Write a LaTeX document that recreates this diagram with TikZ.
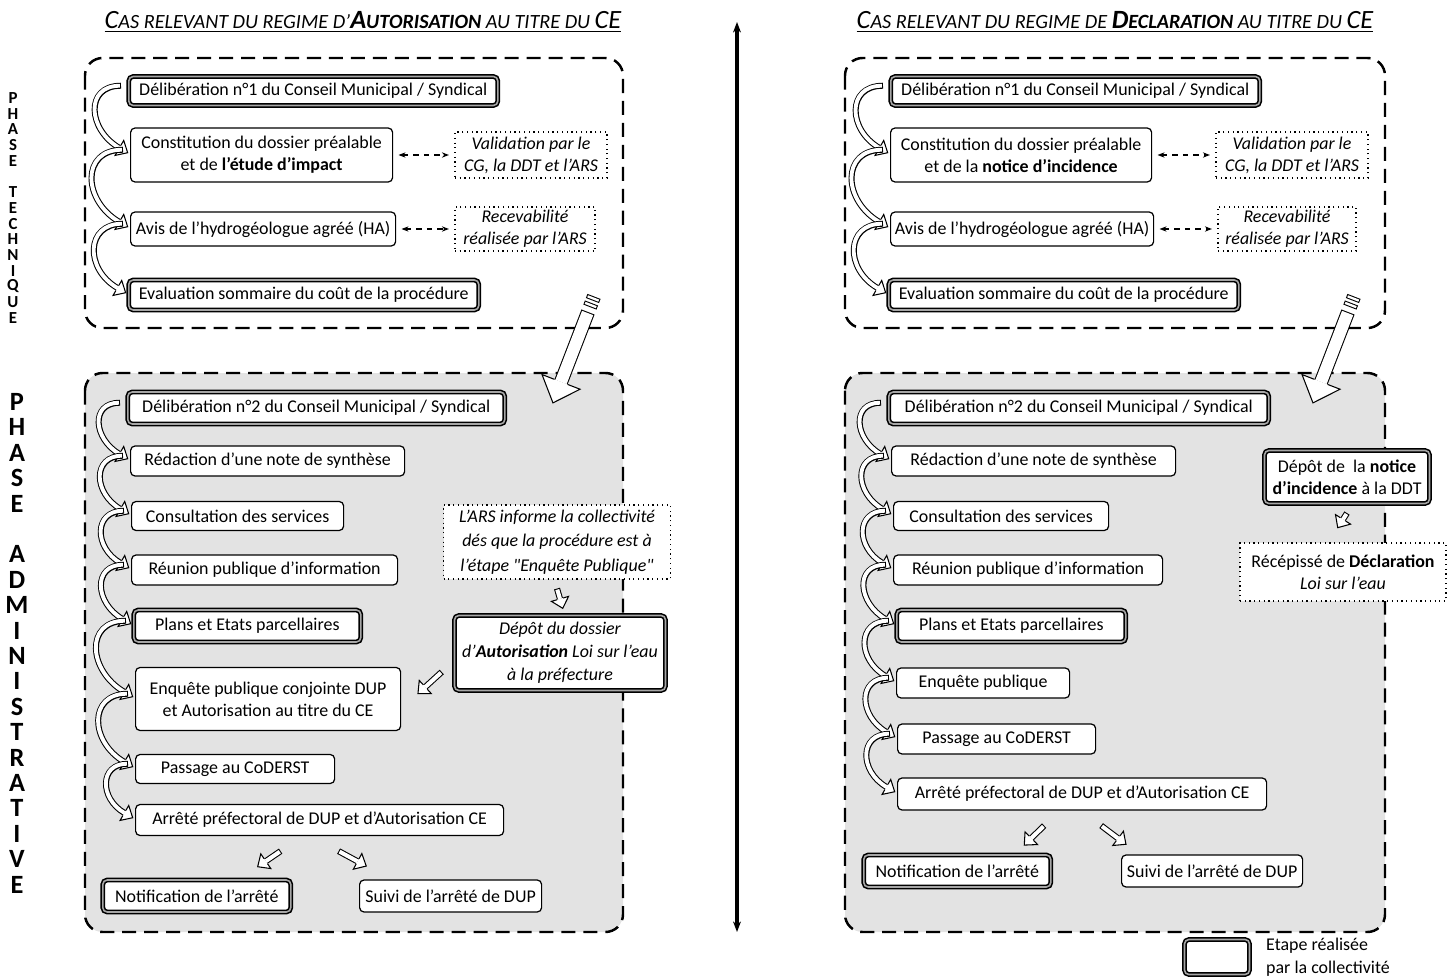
\documentclass[tikz,border=0pt]{standalone}
\usepackage{fontspec}
\setmainfont{Carlito}[Ligatures=TeXOff]
\usetikzlibrary{arrows.meta,calc,decorations.markings}

\newcommand{\grande}[1]{{\fontsize{15}{18}\selectfont #1}}
\newcommand{\petite}[1]{{\fontsize{11.5}{14}\selectfont #1}}

% fleche creuse : #1 largeur du fut, #2 chemin
\newcommand{\fleche}[2]{%
  \def\fw{#1}%
  \draw[line width=#1] #2;
  \draw[white, line width=#1-1.2pt, shorten <=0.6pt] #2;
  \path[decorate, decoration={markings, mark=at position 0.999 with {
    \fill[white] (0pt,{-1.45*\fw}) -- ({1.6*\fw},0pt) -- (0pt,{1.45*\fw}) -- cycle;
    \draw[black, line width=0.6pt] (0pt,{0.5*\fw}) -- (0pt,{1.45*\fw}) -- ({1.6*\fw},0pt) -- (0pt,{-1.45*\fw}) -- (0pt,{-0.5*\fw});
  }}] #2;
}

\tikzset{
  etape/.style={draw, rounded corners=2.5pt, fill=white, line width=0.7pt, align=center, inner sep=2pt, font=\fontsize{10.2}{12.5}\selectfont},
  coll/.style={etape, double=gray!70, double distance=0.9pt, line width=0.9pt},
  avis/.style={etape, dotted, line width=0.9pt, rounded corners=0pt, font=\fontsize{10.2}{12.5}\selectfont\itshape},
  taille/.style 2 args={minimum width=#1*0.02cm, minimum height=#2*0.02cm},
  zone/.style={line width=1.4pt, dash pattern=on 8pt off 4.5pt, rounded corners=10pt},
  lettre/.style={inner sep=0pt, font=\fontsize{#1}{#1}\selectfont\bfseries},
  aller/.style={dashed, line width=0.9pt, {Stealth[length=4pt]}-{Stealth[length=4pt]}, shorten <=3pt, shorten >=3pt},
}

\begin{document}
\begin{tikzpicture}[x=0.02cm, y=-0.02cm, >=Stealth]
	\useasboundingbox (0,0) rectangle (1448,980);
	% cadres des phases
	\draw[zone] (85,58) rectangle (623,328);
	\draw[zone, fill=gray!22] (85,373) rectangle (623,932);
	\draw[zone] (845,58) rectangle (1385,328);
	\draw[zone, fill=gray!22] (845,373) rectangle (1385,932);
	% separation
	\coordinate (haut) at (737,22);
	\coordinate (bas) at (737,932);
	\draw[line width=2pt, {Stealth[length=6pt]}-{Stealth[length=6pt]}] (haut) -- (bas);
	% titres
	\node (titreA) at (363,22) {\underline{\itshape\grande{C}\petite{AS RELEVANT DU REGIME D’}\textbf{\grande{A}\petite{UTORISATION}}\petite{ AU TITRE DU }\grande{CE}}};
	\node (titreD) at (1115,22) {\underline{\itshape\grande{C}\petite{AS RELEVANT DU REGIME DE }\textbf{\grande{D}\petite{ECLARATION}}\petite{ AU TITRE DU }\grande{CE}}};
	% lettres des phases
	\foreach \l [count=\i] in {P,H,A,S,E,,T,E,C,H,N,I,Q,U,E}
		\node[lettre=9.6] (pt\i) at (13,{98+(\i-1)*15.7}) {\l};
	\foreach \l [count=\i] in {P,H,A,S,E,,A,D,M,I,N,I,S,T,R,A,T,I,V,E}
		\node[lettre=15] (pa\i) at (17,{402+(\i-1)*25.4}) {\l};

	% autorisation : phase technique
	\node[coll, taille={369}{29}, anchor=west] (delibA) at (128,91) {Délibération n°1 du Conseil Municipal / Syndical};
	\node[etape, taille={262}{54}, anchor=west] (dossierA) at (130,155) {Constitution du dossier préalable\\et de \textbf{l’étude d’impact}};
	\node[avis, taille={152}{46}] (validA) at (531,155) {Validation par le\\CG, la DDT et l’ARS};
	\node[etape, taille={265}{34}, anchor=west] (avisA) at (130,229) {Avis de l’hydrogéologue agréé (HA)};
	\node[avis, taille={140}{44}] (recevA) at (525,229) {Recevabilité\\réalisée par l’ARS};
	\node[coll, taille={350}{30}, anchor=west] (evalA) at (128,295) {Evaluation sommaire du coût de la procédure};
	\draw[aller] (dossierA) -- (validA);
	\draw[aller] (avisA) -- (recevA);
	% autorisation : phase administrative
	\node[coll, taille={377}{32}, anchor=west] (delib2A) at (127,408) {Délibération n°2 du Conseil Municipal / Syndical};
	\node[etape, taille={274}{30}, anchor=west] (noteA) at (130,461) {Rédaction d’une note de synthèse};
	\node[etape, taille={212}{29}, anchor=west] (consultA) at (131,516) {Consultation des services};
	\node[etape, taille={266}{30}, anchor=west] (reunionA) at (131,570) {Réunion publique d’information};
	\node[coll, taille={227}{32}, anchor=west] (plansA) at (133,626) {Plans et Etats parcellaires};
	\node[etape, taille={265}{63}, anchor=west] (enqueteA) at (135,699) {Enquête publique conjointe DUP\\et Autorisation au titre du CE};
	\node[etape, taille={199}{29}, anchor=west] (coderstA) at (135,769) {Passage au CoDERST};
	\node[etape, taille={368}{31}, anchor=west] (arreteA) at (135,820) {Arrêté préfectoral de DUP et d’Autorisation CE};
	\node[coll, taille={188}{32}, anchor=west] (notifA) at (102,896) {Notification de l’arrêté};
	\node[etape, taille={182}{32}, anchor=west] (suiviA) at (359,896) {Suivi de l’arrêté de DUP};
	\node[avis, taille={227}{74}, font=\fontsize{10.2}{14}\selectfont\itshape] (arsA) at (557,542) {L’ARS informe la collectivité\\dés que la procédure est à\\l’étape "Enquête Publique"};
	\node[coll, taille={211}{75}, font=\fontsize{10.2}{13}\selectfont\itshape] (depotA) at (560,653) {Dépôt du dossier\\d’\textbf{Autorisation} Loi sur l’eau\\à la préfecture};

	% declaration : phase technique
	\node[coll, taille={369}{29}, anchor=west] (delibD) at (890,91) {Délibération n°1 du Conseil Municipal / Syndical};
	\node[etape, taille={261}{54}, anchor=west] (dossierD) at (890,155) {Constitution du dossier préalable\\et de la \textbf{notice d’incidence}};
	\node[avis, taille={152}{46}] (validD) at (1292,155) {Validation par le\\CG, la DDT et l’ARS};
	\node[etape, taille={263}{34}, anchor=west] (avisD) at (890,229) {Avis de l’hydrogéologue agréé (HA)};
	\node[avis, taille={138}{44}] (recevD) at (1287,229) {Recevabilité\\réalisée par l’ARS};
	\node[coll, taille={350}{30}, anchor=west] (evalD) at (888,295) {Evaluation sommaire du coût de la procédure};
	\draw[aller] (dossierD) -- (validD);
	\draw[aller] (avisD) -- (recevD);
	% declaration : phase administrative
	\node[coll, taille={380}{32}, anchor=west] (delib2D) at (888,408) {Délibération n°2 du Conseil Municipal / Syndical};
	\node[etape, taille={284}{30}, anchor=west] (noteD) at (891,461) {Rédaction d’une note de synthèse};
	\node[etape, taille={215}{29}, anchor=west] (consultD) at (893,516) {Consultation des services};
	\node[etape, taille={269}{30}, anchor=west] (reunionD) at (893,570) {Réunion publique d’information};
	\node[coll, taille={229}{32}, anchor=west] (plansD) at (896,626) {Plans et Etats parcellaires};
	\node[etape, taille={173}{30}, anchor=west] (enqueteD) at (896,683) {Enquête publique};
	\node[etape, taille={198}{30}, anchor=west] (coderstD) at (897,739) {Passage au CoDERST};
	\node[etape, taille={369}{32}, anchor=west] (arreteD) at (897,794) {Arrêté préfectoral de DUP et d’Autorisation CE};
	\node[coll, taille={187}{32}, anchor=west] (notifD) at (863,871) {Notification de l’arrêté};
	\node[etape, taille={181}{32}, anchor=west] (suiviD) at (1121,871) {Suivi de l’arrêté de DUP};
	\node[coll, taille={165}{53}] (depotD) at (1347,477) {Dépôt de \ la \textbf{notice}\\\textbf{d’incidence} à la DDT};
	\node[avis, taille={206}{58}, font=\fontsize{10.2}{12.5}\selectfont] (recepD) at (1343,572) {Récépissé de \textbf{Déclaration}\\\textit{Loi sur l’eau}};

	% enchainement des etapes
	\foreach \a/\b in {delibA/dossierA, dossierA/avisA, avisA/evalA, delib2A/noteA, noteA/consultA, consultA/reunionA, reunionA/plansA, plansA/enqueteA, enqueteA/coderstA, coderstA/arreteA,
		delibD/dossierD, dossierD/avisD, avisD/evalD, delib2D/noteD, noteD/consultD, consultD/reunionD, reunionD/plansD, plansD/enqueteD, enqueteD/coderstD, coderstD/arreteD}
		\fleche{3.4pt}{([xshift=-4pt,yshift=3pt]\a.west) to[out=180,in=150,looseness=1.5] ([xshift=-6pt,yshift=4pt]\b.west)};
	% petites fleches
	\fleche{3.5pt}{([yshift=-5pt]arsA.south) -- ([yshift=9pt]depotA.north)};
	\fleche{3.5pt}{($(depotA.west)+(-12,19)$) -- ($(enqueteA.east)+(24,-12)$)};
	\fleche{3.5pt}{($(arreteA.south)+(-39,15)$) -- ($(notifA.north)+(69,-18)$)};
	\fleche{3.5pt}{($(arreteA.south)+(19,15)$) -- ($(suiviA.north)+(-93,-18)$)};
	\fleche{3.5pt}{([yshift=-5pt]depotD.south) -- ([yshift=13pt]recepD.north)};
	\fleche{3.5pt}{($(arreteD.south)+(-38,15)$) -- ($(notifD.north)+(74,-16)$)};
	\fleche{3.5pt}{($(arreteD.south)+(19,15)$) -- ($(suiviD.north)+(-94,-16)$)};
	% passage d'une phase a l'autre
	\coordinate (queueA) at (588,312);
	\coordinate (pointeA) at (561,382);
	\coordinate (queueD) at (1348,312);
	\coordinate (pointeD) at (1321,382);
	\foreach \q/\p in {queueA/pointeA, queueD/pointeD} {
		\fleche{8pt}{(\q) -- (\p)};
		\foreach \s/\e in {3pt/5.5pt, 7pt/9.5pt} {
			\draw[line width=8pt] ($(\q)!-\s!(\p)$) -- ($(\q)!-\e!(\p)$);
			\draw[white, line width=6.8pt, shorten <=0.6pt, shorten >=0.6pt] ($(\q)!-\s!(\p)$) -- ($(\q)!-\e!(\p)$);
		}
	}
	% legende
	\node[coll, taille={65}{35}] (legende) at (1217,957) {};
	\node[anchor=west, align=left, font=\fontsize{10.2}{13}\selectfont] (legtexte) at (1260,957) {Etape réalisée\\par la collectivité};
\end{tikzpicture}
\end{document}
